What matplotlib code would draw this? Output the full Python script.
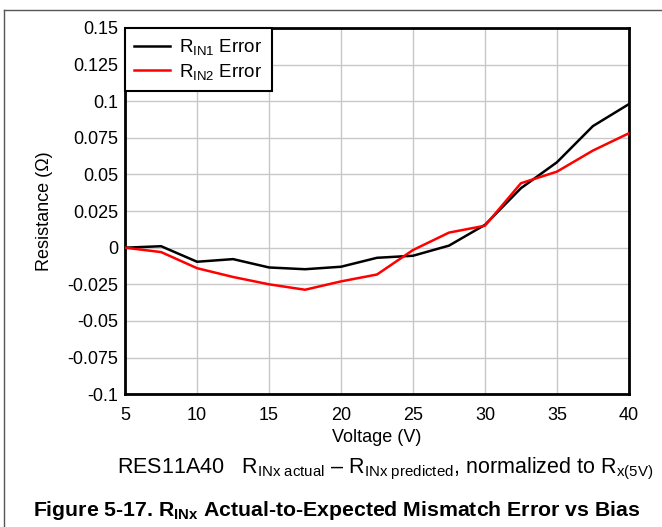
import matplotlib
matplotlib.use("Agg")
import matplotlib.pyplot as plt
from matplotlib.lines import Line2D

plt.rcParams['font.family'] = ['Liberation Sans', 'DejaVu Sans']
plt.rcParams['mathtext.fontset'] = 'custom'
plt.rcParams['mathtext.rm'] = 'Liberation Sans'
plt.rcParams['mathtext.it'] = 'Liberation Sans'
plt.rcParams['mathtext.bf'] = 'Liberation Sans:bold'

# data
voltage = [5, 7.5, 10, 12.5, 15, 17.5, 20, 22.5, 25, 27.5, 30, 32.5, 35, 37.5, 40]
rin1_err = [0.0, 0.001, -0.0096, -0.0078, -0.0135, -0.0147, -0.013, -0.0069,
            -0.0055, 0.0014, 0.0156, 0.0406, 0.0583, 0.083, 0.098]
rin2_err = [0.0, -0.003, -0.014, -0.020, -0.025, -0.0287, -0.023, -0.0183,
            -0.0016, 0.0103, 0.015, 0.044, 0.0519, 0.0663, 0.0781]

xticks = [5, 10, 15, 20, 25, 30, 35, 40]
yticks = [0.15, 0.125, 0.1, 0.075, 0.05, 0.025, 0, -0.025, -0.05, -0.075, -0.1]
ytick_labels = ['0.15', '0.125', '0.1', '0.075', '0.05', '0.025', '0',
                '-0.025', '-0.05', '-0.075', '-0.1']

fig = plt.figure(figsize=(6.62, 5.27), dpi=100)
ax = fig.add_axes([0.189, 0.252, 0.761, 0.695])

ax.plot(voltage, rin1_err, color='black', lw=1.8, label=r'R$_{\mathrm{IN1}}$ Error', zorder=3)
ax.plot(voltage, rin2_err, color='#ff0000', lw=1.8, label=r'R$_{\mathrm{IN2}}$ Error', zorder=3)

ax.set_xlim(5, 40)
ax.set_ylim(-0.1, 0.15)
ax.set_xticks(xticks)
ax.set_yticks(yticks)
ax.set_yticklabels(ytick_labels)
ax.tick_params(length=0, labelsize=13)
ax.tick_params(axis='x', pad=9)
ax.tick_params(axis='y', pad=5)
ax.grid(True, color='#c8c8c8', lw=1)
for s in ax.spines.values():
    s.set_linewidth(2)
    s.set_color('black')

ax.set_xlabel('Voltage (V)', fontsize=13, labelpad=4)
ax.set_ylabel('Resistance (Ω)', fontsize=13, labelpad=10)

leg = ax.legend(loc='upper left', fontsize=13.5, frameon=True, fancybox=False,
                borderaxespad=0, handlelength=1.9, handletextpad=0.5,
                labelspacing=0.25, borderpad=0.5)
leg.get_frame().set_edgecolor('black')
leg.get_frame().set_linewidth(1.5)
leg.get_frame().set_alpha(1)

fig.text(117/662, 1 - 469/527,
         r'RES11A40   R$_{\mathrm{INx\ actual}}$ – R$_{\mathrm{INx\ predicted}}$, normalized to R$_{\mathrm{x(5V)}}$',
         ha='left', va='center', fontsize=15.5)
fig.text(33/662, 1 - 510/527,
         r'Figure 5-17. R$_{\mathbf{INx}}$ Actual-to-Expected Mismatch Error vs Bias',
         ha='left', va='center', fontsize=15.3, fontweight='bold')

# frame lines of the page
fig.add_artist(Line2D([4/662, 4/662], [0, 1 - 10/527], color='#555555', lw=1))
fig.add_artist(Line2D([4/662, 1], [1 - 10/527, 1 - 10/527], color='#555555', lw=1))

fig.savefig('out.png', dpi=100)
